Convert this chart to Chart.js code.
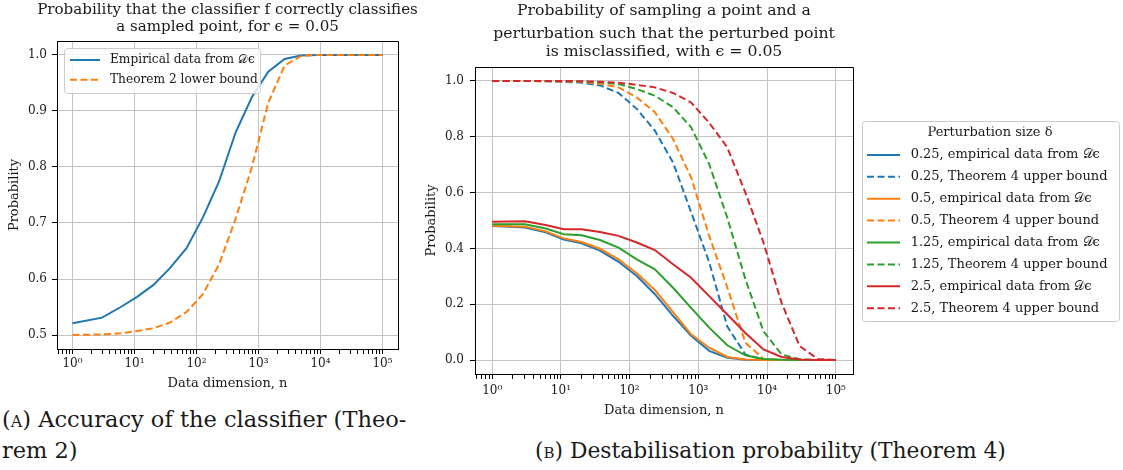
<!DOCTYPE html>
<html><head><meta charset="utf-8">
<script src="https://cdn.jsdelivr.net/npm/chart.js@4.4.1/dist/chart.umd.min.js"></script>
<style>
html,body{margin:0;padding:0;background:#fff;width:1123px;height:470px;overflow:hidden;position:relative;}
#ca{position:absolute;left:0;top:0;}
#cb{position:absolute;left:420px;top:0;}
.cap{position:absolute;font-family:"DejaVu Serif",serif;color:#1a1a1a;white-space:nowrap;line-height:31px;}
</style></head><body>
<canvas id="ca" width="470" height="400"></canvas>
<canvas id="cb" width="703" height="430"></canvas>
<div class="cap" style="left:2px;top:404px;font-size:22.5px">(<span style="font-variant:small-caps">a</span>) Accuracy of the classifier (Theo-<br>rem 2)</div>
<div class="cap" style="left:535px;top:435px;font-size:21.8px">(<span style="font-variant:small-caps">b</span>) Destabilisation probability (Theorem 4)</div>
<script>
// ---------- data ----------
const nValues = [1,3,6,11,20,37,69,127,233,428,784,1438,2636,4832,8858,16237,29763,54555,100000];

const accEmpirical = [0.521,0.531,0.550,0.568,0.589,0.619,0.655,0.710,0.775,0.862,0.925,0.970,0.993,0.999,1,1,1,1,1];
const accBound     = [0.500,0.501,0.503,0.507,0.512,0.522,0.541,0.573,0.627,0.708,0.800,0.915,0.981,0.998,1,1,1,1,1];

const emp025 = [0.480,0.475,0.458,0.432,0.418,0.392,0.352,0.301,0.236,0.158,0.087,0.033,0.008,0.001,0,0,0,0,0];
const bnd025 = [1.000,1.000,0.999,0.997,0.994,0.984,0.957,0.900,0.822,0.708,0.530,0.350,0.120,0.020,0.002,0,0,0,0];
const emp05  = [0.481,0.478,0.461,0.436,0.423,0.399,0.361,0.311,0.251,0.172,0.092,0.044,0.011,0.002,0,0,0,0,0];
const bnd05  = [1.000,1.000,0.999,0.998,0.996,0.990,0.977,0.941,0.888,0.792,0.654,0.445,0.260,0.062,0.004,0,0,0,0];
const emp125 = [0.4865,0.4865,0.471,0.451,0.447,0.430,0.403,0.361,0.325,0.259,0.187,0.116,0.053,0.017,0.004,0.001,0,0,0];
const bnd125 = [1.000,1.000,1.000,0.999,0.998,0.995,0.989,0.971,0.947,0.906,0.834,0.702,0.510,0.290,0.103,0.020,0.003,0,0];
const emp25  = [0.4955,0.497,0.484,0.469,0.469,0.459,0.445,0.421,0.394,0.343,0.295,0.229,0.163,0.097,0.038,0.011,0.002,0,0];
const bnd25  = [1.000,1.000,1.000,1.000,0.999,0.997,0.994,0.986,0.977,0.957,0.923,0.850,0.762,0.600,0.421,0.205,0.050,0.004,0];

const decadeValues = [1,10,100,1000,10000,100000];
const decadeLabels = ['10⁰','10¹','10²','10³','10⁴','10⁵'];
const yTicksA = [0.5,0.6,0.7,0.8,0.9,1.0];
const yTicksB = [0.0,0.2,0.4,0.6,0.8,1.0];

const titleA = ['Probability that the classifier f correctly classifies','a sampled point, for ϵ = 0.05'];
const titleB1 = 'Probability of sampling a point and a';
const titleB2 = ['perturbation such that the perturbed point','is misclassified, with ϵ = 0.05'];
const xTitle = 'Data dimension, n';
const yTitle = 'Probability';
const legendTitleB = 'Perturbation size δ';

// ---------- styling ----------
const FAM = '"DejaVu Serif", "DejaVu Sans", serif';
const TEXT = '#1a1a1a';
const GRID = '#c4c4c4';
const BLUE='#1f77b4', ORANGE='#ff7f0e', GREEN='#2ca02c', RED='#d62728';
const DASH=[7,3.5];
const XMIN = Math.pow(10,-0.25), XMAX = Math.pow(10,5.25);

function xTickList(min,max){
  const list=[];
  for(let e=-1;e<=5;e++){
    for(let m=1;m<=9;m++){
      const v=m*Math.pow(10,e);
      if(v>=min && v<=max){
        list.push({value:v, major:m===1, label: m===1 ? decadeLabels[decadeValues.indexOf(Math.pow(10,e))] : ''});
      }
    }
  }
  return list;
}

function xScale(labelPad, titlePad, height){
  const list = xTickList(XMIN,XMAX);
  return {
    type:'logarithmic', min:XMIN, max:XMAX, bounds:'data',
    afterBuildTicks: s => { s.ticks = list.map(t=>({value:t.value})); },
    ticks:{autoSkip:false, maxRotation:0, minRotation:0, padding:labelPad, color:TEXT,
      font:{family:FAM,size:12,weight:'normal'},
      callback:(v,i)=> list[i] ? list[i].label : ''},
    grid:{color:c => (list[c.index] && list[c.index].major) ? GRID : 'rgba(0,0,0,0)',
      lineWidth:1, tickLength:5, tickColor:'#000', tickWidth:1, drawTicks:true},
    border:{display:true,color:'#000',width:1},
    title:{display:true,text:xTitle,color:TEXT,font:{family:FAM,size:13,weight:'normal',lineHeight:1.2},padding:{top:0,bottom:titlePad}},
    afterFit: s => { s.height = height; }
  };
}
function yScale(min,max,ticksArr,labelPad,titlePad,width){
  return {
    type:'linear', min, max, bounds:'data',
    afterBuildTicks: s => { s.ticks = ticksArr.map(v=>({value:v})); },
    ticks:{autoSkip:false, padding:labelPad, color:TEXT, font:{family:FAM,size:12,weight:'normal'},
      callback:v=>Number(v).toFixed(1)},
    grid:{color:GRID,lineWidth:1,tickLength:5,tickColor:'#000',drawTicks:true},
    border:{display:true,color:'#000',width:1},
    title:{display:true,text:yTitle,color:TEXT,font:{family:FAM,size:13,weight:'normal',lineHeight:1.2},padding:{top:titlePad,bottom:0}},
    afterFit: s => { s.width = width; }
  };
}
// invisible right-hand spacer so that a full-width title is centred on the plot
function spacer(width){
  return {type:'linear', position:'right', display:true, min:0, max:1,
    grid:{display:false, drawTicks:false}, border:{display:false}, ticks:{display:false},
    afterFit: s => { s.width = width; }};
}
function series(label, vals, color, dashed, order){
  return {label, data:nValues.map((n,i)=>({x:n,y:vals[i]})), borderColor:color, backgroundColor:color,
    borderWidth:2, borderDash: dashed ? DASH : [], pointRadius:0, pointHoverRadius:0, tension:0, fill:false, order,
    yAxisID:'y'};
}
function genLabels(chart){
  return chart.data.datasets.map((ds,i)=>({
    text:' '+ds.label, fillStyle:ds.borderColor, strokeStyle:ds.borderColor, lineWidth:2,
    lineDash: ds.borderDash||[], lineCap:'butt', pointStyle:'line', hidden:false, datasetIndex:i, fontColor:TEXT
  }));
}
function al(v){ return Math.round(v-0.5)+0.5; }
function roundRect(ctx,x,y,w,h,r){
  ctx.beginPath();ctx.moveTo(x+r,y);ctx.arcTo(x+w,y,x+w,y+h,r);ctx.arcTo(x+w,y+h,x,y+h,r);
  ctx.arcTo(x,y+h,x,y,r);ctx.arcTo(x,y,x+w,y,r);ctx.closePath();
}
function mplPlugin(cfg){
  return {
    id:'mpl',
    afterInit(chart){
      const lg = chart.legend;
      if(!lg) return;
      lg._layers = () => [{z:10, draw:(area)=>{
        const ctx = chart.ctx, f = cfg.frame;
        ctx.save();
        roundRect(ctx, f.x+0.5, f.y+0.5, f.w, f.h, 3);
        ctx.fillStyle='rgba(255,255,255,0.8)'; ctx.fill();
        ctx.strokeStyle='#cccccc'; ctx.lineWidth=1; ctx.stroke();
        ctx.restore();
        lg.draw(area);
      }}];
    },
    afterLayout(chart){
      const lg = chart.legend;
      lg.left = cfg.left; lg.top = cfg.top; lg.width = cfg.width; lg.height = 400;
      lg.right = lg.left + lg.width; lg.bottom = lg.top + lg.height;
    },
    afterDatasetsDraw(chart){
      const a = chart.chartArea, ctx = chart.ctx;
      ctx.save(); ctx.strokeStyle='#000'; ctx.lineWidth=1;
      const x0=al(a.left), x1=al(a.right), y0=al(a.top), y1=al(a.bottom);
      ctx.beginPath(); ctx.moveTo(x0,y0); ctx.lineTo(x1,y0); ctx.lineTo(x1,y1); ctx.lineTo(x0,y1); ctx.closePath(); ctx.stroke();
      ctx.restore();
    }
  };
}

Chart.defaults.font.family = FAM;
Chart.defaults.color = TEXT;

// ---------- chart A ----------
new Chart(document.getElementById('ca'), {
  type:'line',
  data:{datasets:[
    series('Empirical data from 𝒟ϵ', accEmpirical, BLUE, false, 1),
    series('Theorem 2 lower bound', accBound, ORANGE, true, 0)
  ]},
  options:{
    responsive:false, animation:false, events:[],
    layout:{padding:{left:0,right:15,top:0,bottom:9}},
    scales:{ x:xScale(3,0,42), y:yScale(0.475,1.025,yTicksA,5,7.2,57), ySpacer:spacer(57) },
    plugins:{
      title:{display:true, fullSize:true, text:titleA, color:TEXT,
        font:{family:FAM,size:15.1,weight:'normal',lineHeight:17/15.1}, padding:{top:1.5,bottom:5.5}},
      legend:{display:true, position:'chartArea', align:'start',
        labels:{usePointStyle:true, pointStyleWidth:30, padding:7.5, color:TEXT,
          font:{family:FAM,size:12.2,weight:'normal'}, generateLabels:genLabels}},
      tooltip:{enabled:false}
    }
  },
  plugins:[mplPlugin({left:62.5, top:46.4, width:200, frame:{x:64,y:48,w:196,h:45}})]
});

// ---------- chart B ----------
new Chart(document.getElementById('cb'), {
  type:'line',
  data:{datasets:[
    series('0.25, empirical data from 𝒟ϵ', emp025, BLUE, false, 7),
    series('0.25, Theorem 4 upper bound', bnd025, BLUE, true, 6),
    series('0.5, empirical data from 𝒟ϵ', emp05, ORANGE, false, 5),
    series('0.5, Theorem 4 upper bound', bnd05, ORANGE, true, 4),
    series('1.25, empirical data from 𝒟ϵ', emp125, GREEN, false, 3),
    series('1.25, Theorem 4 upper bound', bnd125, GREEN, true, 2),
    series('2.5, empirical data from 𝒟ϵ', emp25, RED, false, 1),
    series('2.5, Theorem 4 upper bound', bnd25, RED, true, 0)
  ]},
  options:{
    responsive:false, animation:false, events:[],
    layout:{padding:{left:0,right:270,top:0,bottom:12}},
    scales:{ x:xScale(5,0,44), y:yScale(-0.05,1.05,yTicksB,6,3.6,55) },
    plugins:{
      title:{display:true, fullSize:false, text:titleB1, color:TEXT,
        font:{family:FAM,size:15.7,weight:'normal',lineHeight:18/15.7}, padding:{top:2,bottom:5}},
      subtitle:{display:true, fullSize:false, text:titleB2, color:TEXT,
        font:{family:FAM,size:15.7,weight:'normal',lineHeight:18/15.7}, padding:{top:0,bottom:6}},
      legend:{display:true, position:'chartArea', align:'start',
        title:{display:true, text:legendTitleB, color:TEXT, font:{family:FAM,size:13,weight:'normal',lineHeight:1}, padding:{top:0,bottom:0}},
        labels:{usePointStyle:true, pointStyleWidth:33, padding:8.9, color:TEXT,
          font:{family:FAM,size:13,weight:'normal'}, generateLabels:genLabels}},
      tooltip:{enabled:false}
    }
  },
  plugins:[mplPlugin({left:438.1, top:126.5, width:263.8, frame:{x:442,y:121,w:257,h:200}})]
});
</script>
</body></html>
